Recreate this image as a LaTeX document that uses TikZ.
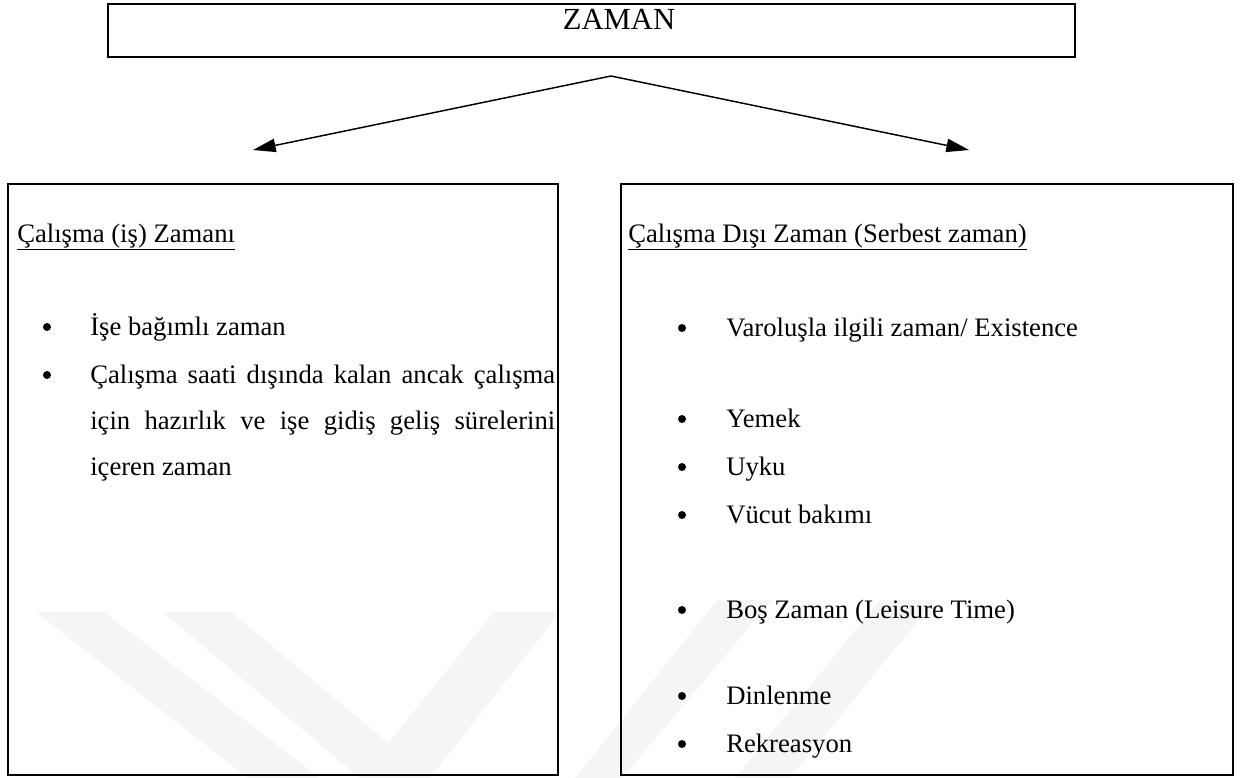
\documentclass[tikz,border=0pt]{standalone}
\usepackage{fontspec}
\setmainfont{Liberation Serif}
\usetikzlibrary{arrows.meta,positioning}

\begin{document}
\begin{tikzpicture}[
  x=0.75pt, y=-0.75pt,
  topbox/.style={draw, line width=1.8pt, inner sep=0pt},
  panel/.style={draw, line width=1.4pt, inner sep=0pt, anchor=north west,
    minimum height=443.25pt},
  head/.style={anchor=base west, inner sep=0pt,
    font=\fontsize{20}{24}\selectfont},
  item/.style={anchor=base west, inner sep=0pt,
    font=\fontsize{20}{34.5}\selectfont},
  dot/.style={circle, fill, inner sep=0pt, minimum size=6pt},
  link/.style={line width=1.1pt, -{Triangle[length=17pt, width=10pt]}},
  wmark/.style={fill=black!4, draw=none},
]
  \useasboundingbox (0,0) rectangle (1243,778);
  % Watermark
  \fill[wmark] (36,612) -- (104,612) -- (320,778) -- (248,778) -- cycle;
  \fill[wmark] (163,612) -- (231,612) -- (430,778) -- (360,778) -- cycle;
  \fill[wmark] (494,612) -- (560,612) -- (430,778) -- (360,778) -- cycle;
  \fill[wmark] (717,600) -- (772,600) -- (622,778) -- (575,778) -- cycle;
  \fill[wmark] (880,600) -- (935,600) -- (790,778) -- (735,778) -- cycle;
  % Top box
  \node[topbox, anchor=north west, minimum width=725.25pt,
    minimum height=39.75pt] (top) at (107,3) {};
  \node[anchor=base, inner sep=0pt, font=\fontsize{23}{28}\selectfont]
    (zaman) at (619,30) {ZAMAN};
  % Arrows
  \coordinate (apex) at (611,76);
  \coordinate (ltip) at (253,150);
  \coordinate (rtip) at (969,150);
  \draw[link] (apex) -- (ltip);
  \draw[link] (apex) -- (rtip);
  % Panels
  \node[panel, minimum width=412.5pt] (work) at (7,183) {};
  \node[panel, minimum width=459pt] (free) at (620,183) {};
  % Left panel
  \node[head] (workhead) at (17,242) {\underline{Çalışma (iş) Zamanı}};
  \node[dot] (wd1) at (47,327) {};
  \node[item] (wi1) at (90,335) {İşe bağımlı zaman};
  \node[dot] (wd2) at (47,375) {};
  \node[item, text width=348.75pt, align=justify] (wi2) at (90,383)
    {Çalışma saati dışında kalan ancak çalışma için hazırlık ve işe
     gidiş geliş sürelerini içeren zaman};
  % Right panel
  \node[head] (freehead) at (628,242)
    {\underline{Çalışma Dışı Zaman (Serbest zaman)}};
  \node[dot] (fd1) at (682,328) {};
  \node[item] (fi1) at (726,336) {Varoluşla ilgili zaman/ Existence};
  \node[dot] (fd2) at (682,419) {};
  \node[item] (fi2) at (726,427) {Yemek};
  \node[dot] (fd3) at (682,467) {};
  \node[item] (fi3) at (726,475) {Uyku};
  \node[dot] (fd4) at (682,515) {};
  \node[item] (fi4) at (726,523) {Vücut bakımı};
  \node[dot] (fd5) at (682,610) {};
  \node[item] (fi5) at (726,618) {Boş Zaman (Leisure Time)};
  \node[dot] (fd6) at (682,696) {};
  \node[item] (fi6) at (726,704) {Dinlenme};
  \node[dot] (fd7) at (682,744) {};
  \node[item] (fi7) at (726,752) {Rekreasyon};
\end{tikzpicture}
\end{document}
